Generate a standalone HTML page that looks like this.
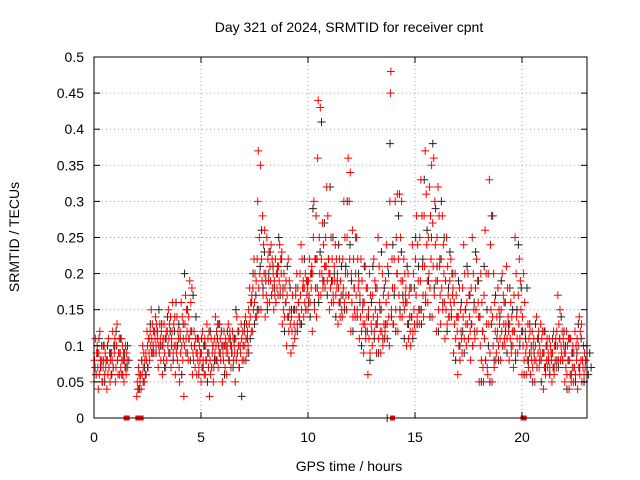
<!DOCTYPE html>
<html><head><meta charset="utf-8"><style>
body{margin:0;background:#fff;}
svg{display:block;font-family:"Liberation Sans",sans-serif;}
</style></head><body>
<svg id="chart" width="640" height="480" xmlns="http://www.w3.org/2000/svg">
<rect width="640" height="480" fill="#fff"/>
<g id="grid"></g>
<g id="marks"></g>
<rect x="94" y="57" width="493" height="361" fill="none" stroke="#000" stroke-width="1"/>
<g id="axes"></g>
<text x="349" y="32" text-anchor="middle" font-size="14">Day 321 of 2024, SRMTID for receiver cpnt</text>
<text x="349" y="471" text-anchor="middle" font-size="14">GPS time / hours</text>
<text transform="translate(19,237) rotate(-90)" text-anchor="middle" font-size="14">SRMTID / TECUs</text>
</svg>
<script>
const xTicks=[0,5,10,15,20];
const yTicks=[0,0.05,0.1,0.15,0.2,0.25,0.3,0.35,0.4,0.45,0.5];
const yTickLabels=["0","0.05","0.1","0.15","0.2","0.25","0.3","0.35","0.4","0.45","0.5"];
// red series: [hour, v1..v8]
const redRows=[
[0.0,0.05,0.08,0.07,0.11,0.06,0.09,0.10,0.07],[0.2,0.04,0.09,0.06,0.12,0.08,0.07,0.10,0.05],
[0.4,0.05,0.07,0.08,0.10,0.06,0.09,0.07,0.08],[0.6,0.04,0.08,0.06,0.11,0.07,0.09,0.05,0.08],
[0.8,0.06,0.09,0.08,0.12,0.07,0.10,0.09,0.11],[1.0,0.05,0.07,0.10,0.13,0.08,0.06,0.09,0.11],
[1.2,0.06,0.09,0.07,0.11,0.08,0.10,0.06,0.09],[1.4,0.05,0.08,0.07,0.10,0.06,0.09,0.08,0.07],
[2.0,0.03,0.05,0.04,0.07,0.06,0.04,0.05,0.06],[2.2,0.04,0.08,0.06,0.10,0.07,0.09,0.05,0.08],
[2.4,0.06,0.09,0.08,0.12,0.10,0.07,0.11,0.09],[2.6,0.08,0.12,0.10,0.15,0.11,0.13,0.09,0.12],
[2.8,0.09,0.12,0.11,0.14,0.10,0.13,0.12,0.11],[3.0,0.07,0.10,0.09,0.13,0.11,0.08,0.12,0.10],
[3.2,0.06,0.10,0.08,0.13,0.09,0.11,0.07,0.12],[3.4,0.08,0.12,0.10,0.15,0.11,0.13,0.09,0.14],
[3.6,0.07,0.11,0.12,0.16,0.09,0.13,0.10,0.14],[3.8,0.06,0.10,0.09,0.14,0.08,0.12,0.11,0.07],
[4.0,0.05,0.12,0.09,0.16,0.10,0.14,0.08,0.11],[4.2,0.03,0.10,0.13,0.17,0.11,0.15,0.12,0.09],
[4.4,0.08,0.14,0.11,0.19,0.12,0.16,0.10,0.18],[4.6,0.06,0.09,0.08,0.12,0.10,0.07,0.11,0.09],
[4.8,0.06,0.09,0.08,0.11,0.07,0.10,0.08,0.09],[5.0,0.05,0.09,0.07,0.12,0.08,0.10,0.06,0.11],
[5.2,0.06,0.10,0.08,0.13,0.09,0.11,0.07,0.12],[5.4,0.03,0.08,0.06,0.11,0.07,0.09,0.10,0.05],
[5.6,0.07,0.11,0.09,0.14,0.10,0.12,0.08,0.13],[5.8,0.07,0.10,0.09,0.13,0.11,0.08,0.12,0.10],
[6.0,0.05,0.09,0.08,0.12,0.10,0.07,0.11,0.09],[6.2,0.06,0.10,0.09,0.13,0.11,0.08,0.12,0.10],
[6.4,0.07,0.10,0.09,0.12,0.11,0.08,0.10,0.09],[6.6,0.05,0.11,0.08,0.14,0.09,0.12,0.10,0.07],
[6.8,0.07,0.10,0.09,0.13,0.11,0.08,0.12,0.10],[7.0,0.08,0.12,0.10,0.14,0.11,0.13,0.09,0.12],
[7.2,0.10,0.15,0.13,0.18,0.14,0.16,0.12,0.17],[7.4,0.12,0.18,0.15,0.22,0.16,0.20,0.14,0.19],
[7.6,0.14,0.22,0.30,0.37,0.18,0.25,0.20,0.35],[7.8,0.15,0.22,0.19,0.28,0.17,0.24,0.20,0.26],
[8.0,0.14,0.20,0.17,0.25,0.16,0.22,0.19,0.23],[8.2,0.16,0.21,0.19,0.24,0.17,0.22,0.18,0.20],
[8.4,0.15,0.19,0.17,0.22,0.16,0.20,0.18,0.21],[8.6,0.17,0.21,0.19,0.24,0.18,0.22,0.20,0.23],
[8.8,0.13,0.17,0.15,0.20,0.14,0.18,0.16,0.19],[9.0,0.10,0.17,0.14,0.22,0.12,0.19,0.15,0.13],
[9.2,0.09,0.14,0.12,0.17,0.10,0.15,0.13,0.11],[9.4,0.12,0.17,0.15,0.20,0.13,0.18,0.16,0.14],
[9.6,0.14,0.20,0.17,0.24,0.15,0.22,0.18,0.19],[9.8,0.14,0.18,0.16,0.20,0.15,0.19,0.17,0.18],
[10.0,0.15,0.19,0.17,0.22,0.16,0.20,0.18,0.21],[10.2,0.12,0.20,0.25,0.30,0.15,0.22,0.18,0.28],
[10.4,0.14,0.22,0.36,0.44,0.17,0.25,0.20,0.43],[10.6,0.17,0.22,0.20,0.27,0.18,0.24,0.19,0.21],
[10.8,0.18,0.25,0.21,0.32,0.19,0.28,0.22,0.20],[11.0,0.15,0.20,0.18,0.25,0.16,0.22,0.19,0.17],
[11.2,0.16,0.21,0.19,0.24,0.17,0.22,0.18,0.20],[11.4,0.13,0.18,0.16,0.22,0.14,0.19,0.17,0.15],
[11.6,0.14,0.22,0.18,0.30,0.16,0.25,0.20,0.17],[11.8,0.15,0.25,0.20,0.36,0.17,0.30,0.22,0.34],
[12.0,0.12,0.20,0.16,0.26,0.14,0.22,0.18,0.15],[12.2,0.14,0.20,0.17,0.25,0.15,0.22,0.18,0.19],
[12.4,0.11,0.17,0.14,0.22,0.12,0.19,0.15,0.13],[12.6,0.09,0.16,0.13,0.21,0.11,0.18,0.14,0.12],
[12.8,0.06,0.15,0.11,0.20,0.09,0.17,0.13,0.12],[13.0,0.10,0.17,0.14,0.22,0.12,0.19,0.15,0.13],
[13.2,0.09,0.18,0.14,0.25,0.11,0.21,0.16,0.12],[13.4,0.09,0.15,0.12,0.20,0.10,0.17,0.13,0.11],
[13.6,0.12,0.19,0.16,0.24,0.13,0.21,0.17,0.14],[13.8,0.10,0.30,0.45,0.48,0.15,0.22,0.18,0.13],
[14.0,0.13,0.22,0.18,0.30,0.15,0.25,0.20,0.31],[14.2,0.12,0.22,0.17,0.31,0.14,0.25,0.19,0.30],
[14.4,0.14,0.19,0.16,0.22,0.15,0.20,0.17,0.18],[14.6,0.10,0.16,0.13,0.20,0.11,0.17,0.14,0.12],
[14.8,0.10,0.18,0.14,0.24,0.12,0.20,0.15,0.13],[15.0,0.12,0.22,0.17,0.28,0.14,0.24,0.19,0.15],
[15.2,0.13,0.25,0.19,0.33,0.15,0.28,0.21,0.17],[15.4,0.14,0.28,0.21,0.37,0.17,0.31,0.24,0.19],
[15.6,0.16,0.25,0.20,0.32,0.18,0.28,0.22,0.35],[15.8,0.14,0.27,0.21,0.36,0.17,0.30,0.24,0.19],
[16.0,0.12,0.25,0.19,0.32,0.15,0.28,0.21,0.17],[16.2,0.13,0.22,0.18,0.28,0.15,0.24,0.20,0.16],
[16.4,0.11,0.19,0.15,0.25,0.13,0.21,0.17,0.14],[16.6,0.14,0.19,0.16,0.22,0.15,0.20,0.17,0.18],
[16.8,0.09,0.16,0.13,0.20,0.11,0.17,0.14,0.12],[17.0,0.06,0.14,0.10,0.18,0.08,0.15,0.12,0.11],
[17.2,0.09,0.18,0.14,0.24,0.11,0.20,0.15,0.13],[17.4,0.10,0.16,0.13,0.20,0.11,0.17,0.14,0.12],
[17.6,0.08,0.18,0.13,0.25,0.10,0.20,0.15,0.12],[17.8,0.11,0.18,0.15,0.22,0.12,0.19,0.16,0.14],
[18.0,0.05,0.14,0.10,0.20,0.08,0.16,0.12,0.07],[18.2,0.05,0.17,0.11,0.26,0.08,0.20,0.13,0.07],
[18.4,0.06,0.20,0.13,0.33,0.09,0.24,0.15,0.28],[18.6,0.05,0.14,0.10,0.20,0.07,0.16,0.12,0.08],
[18.8,0.09,0.14,0.12,0.18,0.10,0.15,0.13,0.11],[19.0,0.08,0.15,0.12,0.20,0.10,0.17,0.13,0.11],
[19.2,0.10,0.16,0.13,0.21,0.11,0.18,0.14,0.12],[19.4,0.08,0.13,0.11,0.16,0.09,0.14,0.12,0.10],
[19.6,0.07,0.17,0.12,0.25,0.09,0.20,0.14,0.11],[19.8,0.09,0.17,0.13,0.22,0.11,0.19,0.15,0.12],
[20.0,0.06,0.14,0.10,0.20,0.08,0.16,0.12,0.09],[20.2,0.06,0.10,0.08,0.13,0.07,0.11,0.09,0.12],
[20.4,0.06,0.09,0.08,0.12,0.07,0.10,0.11,0.08],[20.6,0.05,0.10,0.08,0.14,0.07,0.11,0.09,0.12],
[20.8,0.07,0.10,0.09,0.13,0.08,0.11,0.12,0.09],[21.0,0.04,0.09,0.07,0.12,0.06,0.10,0.08,0.11],
[21.2,0.07,0.09,0.08,0.11,0.07,0.10,0.09,0.08],[21.4,0.05,0.09,0.07,0.12,0.06,0.10,0.08,0.11],
[21.6,0.07,0.12,0.10,0.17,0.08,0.13,0.11,0.15],[21.8,0.08,0.10,0.09,0.12,0.08,0.11,0.10,0.09],
[22.0,0.05,0.09,0.07,0.12,0.06,0.10,0.08,0.11],[22.2,0.04,0.08,0.06,0.11,0.05,0.09,0.07,0.10],
[22.4,0.05,0.09,0.07,0.12,0.06,0.10,0.08,0.11],[22.6,0.04,0.10,0.07,0.14,0.06,0.12,0.08,0.13],
[22.8,0.05,0.08,0.07,0.10,0.06,0.09,0.07,0.08]];
// black series: [hour, v1..v6]
const blackRows=[
[0.1,0.06,0.09,0.11,0.07,0.08,0.10],[0.5,0.05,0.08,0.10,0.07,0.09,0.06],[0.9,0.07,0.10,0.12,0.08,0.09,0.11],[1.3,0.06,0.08,0.09,0.07,0.10,0.08],
[2.1,0.04,0.06,0.08,0.05,0.07,0.06],[2.5,0.07,0.11,0.13,0.09,0.10,0.12],[2.9,0.09,0.12,0.15,0.10,0.13,0.11],[3.3,0.07,0.11,0.14,0.09,0.12,0.10],
[3.7,0.08,0.12,0.16,0.10,0.13,0.11],[4.1,0.06,0.13,0.20,0.09,0.15,0.11],[4.5,0.08,0.12,0.17,0.10,0.14,0.11],[4.9,0.06,0.09,0.11,0.07,0.10,0.08],
[5.3,0.05,0.09,0.12,0.07,0.10,0.08],[5.7,0.08,0.11,0.13,0.09,0.12,0.10],[6.1,0.06,0.10,0.12,0.08,0.11,0.09],[6.5,0.07,0.11,0.15,0.09,0.12,0.10],
[6.9,0.03,0.10,0.13,0.08,0.11,0.09],[7.3,0.11,0.16,0.20,0.13,0.17,0.15],[7.7,0.15,0.21,0.26,0.18,0.23,0.19],[8.1,0.15,0.20,0.23,0.17,0.21,0.18],
[8.5,0.16,0.20,0.25,0.17,0.22,0.18],[8.9,0.12,0.16,0.21,0.14,0.18,0.15],[9.3,0.10,0.15,0.18,0.12,0.16,0.13],[9.7,0.13,0.18,0.22,0.15,0.19,0.16],
[10.1,0.14,0.20,0.29,0.16,0.22,0.18],[10.5,0.16,0.23,0.41,0.19,0.27,0.21],[10.9,0.17,0.22,0.32,0.19,0.25,0.20],[11.3,0.14,0.19,0.24,0.16,0.21,0.17],
[11.7,0.15,0.21,0.30,0.17,0.24,0.19],[12.1,0.12,0.18,0.25,0.14,0.20,0.16],[12.5,0.10,0.16,0.21,0.12,0.18,0.14],[12.9,0.08,0.16,0.21,0.11,0.18,0.13],
[13.3,0.09,0.15,0.23,0.11,0.18,0.13],[13.7,0.11,0.20,0.38,0.14,0.24,0.17],[14.1,0.12,0.20,0.28,0.15,0.23,0.17],[14.5,0.11,0.16,0.21,0.13,0.18,0.14],
[14.9,0.11,0.18,0.25,0.13,0.21,0.15],[15.3,0.13,0.22,0.33,0.16,0.26,0.19],[15.7,0.14,0.25,0.38,0.18,0.29,0.21],[16.1,0.12,0.22,0.30,0.16,0.25,0.19],
[16.5,0.12,0.18,0.23,0.14,0.20,0.16],[16.9,0.08,0.14,0.19,0.10,0.16,0.12],[17.3,0.09,0.15,0.21,0.11,0.17,0.13],[17.7,0.10,0.16,0.23,0.12,0.19,0.14],
[18.1,0.05,0.12,0.21,0.08,0.15,0.10],[18.5,0.05,0.13,0.28,0.08,0.17,0.11],[18.9,0.08,0.14,0.19,0.10,0.16,0.12],[19.3,0.09,0.13,0.18,0.10,0.15,0.12],
[19.7,0.08,0.15,0.24,0.10,0.18,0.12],[20.1,0.06,0.11,0.18,0.08,0.13,0.10],[20.5,0.05,0.09,0.13,0.07,0.11,0.08],[20.9,0.05,0.09,0.12,0.07,0.10,0.08],
[21.3,0.06,0.09,0.11,0.07,0.10,0.08],[21.7,0.07,0.11,0.14,0.08,0.12,0.10],[22.1,0.04,0.08,0.11,0.06,0.09,0.07],[22.5,0.05,0.09,0.13,0.07,0.11,0.08],
[22.9,0.05,0.08,0.10,0.06,0.09,0.07]];
const redZeroHours=[1.5,1.55,2.05,2.2,13.95,20.05,20.1];
const blackZeroHours=[13.7];

const X0=94,X1=587,Y0=418,Y1=57,PXH=21.4;
const xScale=h=>X0+h*PXH;
const yScale=v=>Y0-(v/0.5)*(Y0-Y1);
const NS="http://www.w3.org/2000/svg";
const grid=document.getElementById('grid'),axes=document.getElementById('axes'),marks=document.getElementById('marks');
function mk(tag,attrs,parent){const e=document.createElementNS(NS,tag);for(const k in attrs)e.setAttribute(k,attrs[k]);parent.appendChild(e);return e;}
yTicks.forEach((v,i)=>{
  const y=yScale(v);
  if(i>0&&i<yTicks.length-1){const g=mk('line',{x1:X0,x2:X1,y1:y,y2:y,stroke:'#a0a0a0','stroke-dasharray':'1,3'},grid);
  
  }
  const t=mk('line',{x1:X0,x2:X0+6,y1:y,y2:y,stroke:'#000'},axes);
  
  
  const t2=mk('line',{x1:X1-6,x2:X1,y1:y,y2:y,stroke:'#000'},axes);
  
  
  const l=mk('text',{x:X0-10,y:y+5,'text-anchor':'end','font-size':'14'},axes);l.textContent=yTickLabels[i];
  
  
});
xTicks.forEach(h=>{
  const x=xScale(h);
  if(h>0){const g=mk('line',{x1:x,x2:x,y1:Y1,y2:Y0,stroke:'#a0a0a0','stroke-dasharray':'1,3'},grid);
  
  }
  const t=mk('line',{x1:x,x2:x,y1:Y0,y2:Y0-6,stroke:'#000'},axes);
  
  
  const t2=mk('line',{x1:x,x2:x,y1:Y1,y2:Y1+6,stroke:'#000'},axes);
  
  
  const l=mk('text',{x:x,y:Y0+24,'text-anchor':'middle','font-size':'14'},axes);l.textContent=String(h);
  
  
});
function plus(h,v,color,name){
  const x=xScale(h),y=yScale(v);
  const p=mk('path',{d:`M${x-4},${y}h8M${x},${y-4}v8`,stroke:color,'stroke-width':'1',fill:'none'},marks);
  
  
}
blackRows.forEach(r=>{for(let k=1;k<r.length;k++)plus(r[0]+(k-1)*0.066,r[k],'#222','black-point');});
blackZeroHours.forEach(h=>plus(h,0,'#222','black-point'));
redRows.forEach(r=>{for(let k=1;k<r.length;k++)plus(r[0]+(k-1)*0.025,r[k],'#ff0000','red-point');});
redZeroHours.forEach(h=>{const x=xScale(h);const s=mk('rect',{x:x-2.5,y:Y0-2.5,width:5,height:5,fill:'#ff0000'},marks);
  
  });
</script>
</body></html>
